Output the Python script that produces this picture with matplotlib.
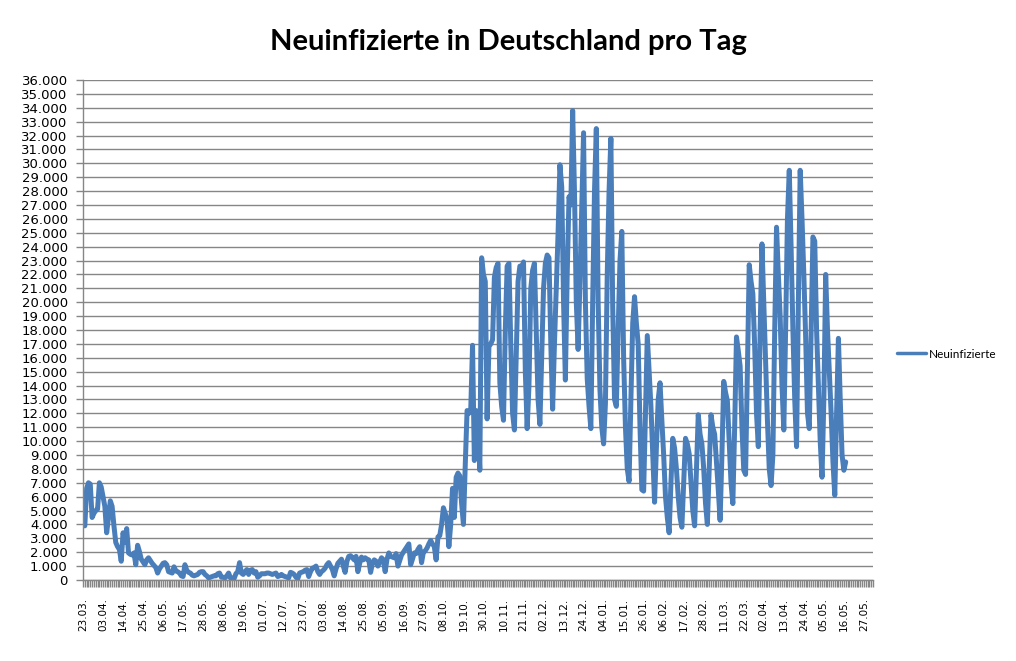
import numpy as np
import matplotlib
matplotlib.use("Agg")
import matplotlib.pyplot as plt
from matplotlib.ticker import FuncFormatter

# Neuinfizierte pro Tag (in Tausend), ab 23.03.2020
neu_tsd = [
    4.2, 3.9, 6.6, 7.0, 6.9, 4.5, 4.8, 5.0, 5.1, 7.0,            # 0
    6.7, 6.0, 5.3, 3.4, 4.5, 5.7, 5.3, 3.9, 2.7, 2.4,            # 10
    2.2, 1.35, 3.4, 2.7, 3.7, 1.95, 1.85, 1.8, 1.95, 1.1,        # 20
    2.5, 2.05, 1.5, 1.3, 1.1, 1.45, 1.6, 1.4, 1.2, 1.05,         # 30
    0.9, 0.5, 0.8, 1.0, 1.2, 1.25, 1.1, 0.6, 0.55, 0.5,          # 40
    0.95, 0.65, 0.6, 0.5, 0.3, 0.25, 1.1, 0.7, 0.55, 0.5,        # 50
    0.35, 0.3, 0.35, 0.4, 0.55, 0.6, 0.6, 0.4, 0.3, 0.15,        # 60
    0.2, 0.25, 0.3, 0.3, 0.45, 0.5, 0.2, 0.2, 0.15, 0.3,         # 70
    0.5, 0.15, 0.12, 0.1, 0.45, 0.6, 1.25, 0.5, 0.4, 0.6,        # 80
    0.75, 0.4, 0.7, 0.75, 0.5, 0.6, 0.2, 0.3, 0.45, 0.45,        # 90
    0.45, 0.5, 0.5, 0.45, 0.4, 0.45, 0.5, 0.25, 0.3, 0.4,        # 100
    0.3, 0.25, 0.2, 0.15, 0.55, 0.5, 0.4, 0.2, 0.1, 0.5,         # 110
    0.55, 0.6, 0.7, 0.75, 0.25, 0.6, 0.85, 0.9, 1.0, 0.6,        # 120
    0.4, 0.6, 0.7, 0.85, 1.1, 1.25, 1.0, 0.75, 0.3, 0.8,         # 130
    1.2, 1.35, 1.5, 1.0, 0.55, 1.35, 1.7, 1.75, 1.6, 1.45,       # 140
    1.7, 0.6, 1.2, 1.65, 1.45, 1.6, 1.5, 1.45, 0.55, 1.2,        # 150
    1.45, 1.35, 1.0, 1.3, 1.6, 1.45, 0.6, 1.5, 1.95, 1.7,        # 160
    1.65, 1.6, 1.9, 1.0, 1.4, 1.8, 2.0, 2.2, 2.4, 2.6,           # 170
    1.1, 1.5, 1.95, 1.9, 2.2, 2.4, 1.25, 2.0, 2.1, 2.3,          # 180
    2.6, 2.85, 2.6, 2.4, 1.45, 3.1, 3.2, 4.0, 5.2, 4.8,          # 190
    4.35, 2.4, 4.0, 6.6, 4.5, 7.4, 7.7, 7.5, 5.5, 4.0,           # 200
    8.3, 12.2, 12.0, 12.2, 16.9, 8.6, 12.2, 11.0, 7.9, 23.2,     # 210
    22.0, 21.5, 11.6, 16.8, 17.0, 17.3, 21.8, 22.5, 22.8, 14.2,  # 220
    12.5, 11.5, 18.0, 22.6, 22.8, 17.0, 12.0, 10.8, 16.0, 21.5,  # 230
    22.6, 22.5, 22.9, 15.0, 10.9, 14.0, 21.0, 22.3, 22.8, 18.0,  # 240
    13.0, 11.2, 16.0, 21.0, 22.8, 23.4, 23.2, 17.0, 12.3, 17.0,  # 250
    20.9, 25.0, 29.9, 28.3, 20.0, 14.4, 22.0, 27.6, 27.0, 33.8,  # 260
    28.0, 20.0, 16.6, 21.5, 27.0, 32.2, 20.0, 14.5, 12.5, 10.9,  # 270
    20.0, 28.0, 32.5, 20.0, 13.7, 11.0, 9.8, 12.7, 22.0, 28.0,   # 280
    31.8, 19.7, 13.0, 12.5, 18.0, 23.0, 25.1, 16.0, 11.0, 8.0,   # 290
    7.1, 13.0, 18.5, 20.4, 18.5, 17.0, 11.0, 6.5, 6.4, 12.0,     # 300
    17.6, 15.0, 12.5, 9.0, 5.6, 9.5, 13.0, 14.2, 11.5, 9.0,      # 310
    6.0, 4.5, 3.4, 7.0, 10.2, 9.5, 8.0, 6.0, 4.5, 3.8,           # 320
    7.0, 10.2, 9.8, 9.1, 7.0, 5.0, 3.9, 8.0, 11.9, 10.5,         # 330
    9.8, 8.0, 5.5, 4.0, 8.0, 11.9, 11.0, 10.5, 8.5, 6.5,         # 340
    4.3, 9.0, 14.3, 13.5, 12.9, 10.0, 7.0, 5.5, 11.0, 17.5,      # 350
    16.5, 15.4, 11.0, 7.9, 7.6, 15.0, 22.7, 21.5, 20.6, 16.8,    # 360
    12.0, 9.6, 18.0, 24.2, 20.0, 16.0, 11.5, 8.0, 6.8, 9.0,      # 370
    18.0, 25.4, 22.0, 19.0, 14.0, 10.8, 18.0, 26.0, 29.5, 24.0,  # 380
    18.0, 13.0, 9.6, 20.0, 29.5, 26.0, 22.0, 17.5, 12.0, 10.9,   # 390
    18.0, 24.7, 24.4, 18.0, 14.0, 10.0, 7.4, 13.0, 22.0, 18.0,   # 400
    15.0, 12.0, 8.5, 6.1, 12.0, 17.4, 13.0, 9.0, 7.9, 8.5,       # 410
]

datum_labels = [
    "23.03.", "03.04.", "14.04.", "25.04.", "06.05.", "17.05.", "28.05.",
    "08.06.", "19.06.", "01.07.", "12.07.", "23.07.", "03.08.", "14.08.",
    "25.08.", "05.09.", "16.09.", "27.09.", "08.10.", "19.10.", "30.10.",
    "10.11.", "21.11.", "02.12.", "13.12.", "24.12.", "04.01.", "15.01.",
    "26.01.", "06.02.", "17.02.", "28.02.", "11.03.", "22.03.", "02.04.",
    "13.04.", "24.04.", "05.05.", "16.05.", "27.05.",
]
n_kategorien = 434
label_abstand = 11

werte = np.array(neu_tsd) * 1000
tage = np.arange(len(werte))

blau = "#4a7ebb"
grau = "#868686"

fig = plt.figure(figsize=(10.16, 6.61), dpi=100)
ax = fig.add_axes([83 / 1016, 1 - 580 / 661, 790 / 1016, 500 / 661])

ax.plot(tage, werte, color=blau, lw=3.6, solid_joinstyle="round",
        solid_capstyle="round", label="Neuinfizierte")

ax.set_xlim(0, n_kategorien)
ax.set_ylim(0, 36000)

ax.set_yticks(np.arange(0, 36001, 1000))
ax.yaxis.set_major_formatter(FuncFormatter(lambda v, p: f"{v:,.0f}".replace(",", ".")))
ax.grid(axis="y", color=grau, lw=1)
ax.set_axisbelow(True)

ax.set_xticks(np.arange(0, label_abstand * len(datum_labels), label_abstand))
ax.set_xticklabels(datum_labels, rotation=90, fontsize=7.5)
ax.set_xticks(np.arange(0, n_kategorien + 1), minor=True)

for s in ["top", "right"]:
    ax.spines[s].set_visible(False)
for s in ["left", "bottom"]:
    ax.spines[s].set_color(grau)
    ax.spines[s].set_linewidth(1)

ax.tick_params(axis="y", which="both", color=grau, width=1, length=5,
               labelsize=9.5, pad=6)
ax.tick_params(axis="x", which="both", color=grau, width=1, length=5, pad=8)

fig.text(0.5, 1 - 42 / 661, "Neuinfizierte in Deutschland pro Tag",
         ha="center", va="center", fontsize=21, fontweight="bold", family="Lato")

leg = ax.legend(loc="center left", bbox_to_anchor=(886 / 1016, 1 - 354 / 661),
                bbox_transform=fig.transFigure, frameon=False,
                prop={"family": "Lato", "size": 8.5}, handlelength=2.5,
                handletextpad=0.25)
for l in leg.get_lines():
    l.set_linewidth(2.5)

fig.savefig("out.png", dpi=100)
